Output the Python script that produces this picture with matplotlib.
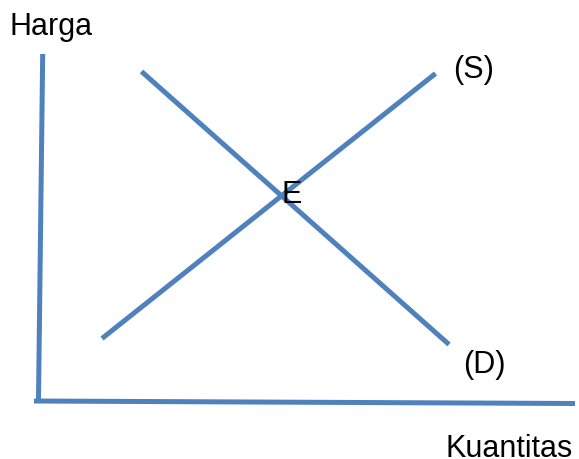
import matplotlib
matplotlib.use("Agg")
import matplotlib.pyplot as plt

# picture coordinates (pixels, y grows downwards)
axis_y_x = [42.7, 38.5]
axis_y_y = [55, 400]
axis_x_x = [34, 575]
axis_x_y = [402, 404.5]

supply_x = [102, 435.5]
supply_y = [339.5, 74.5]
demand_x = [141.5, 449]
demand_y = [72.5, 345.5]

labels = ["Harga", "Kuantitas", "(S)", "(D)", "E"]
label_x = [9, 446, 453, 463, 282]
label_y = [35, 457, 78, 373, 203]

blue = "#4F81BD"

fig = plt.figure(figsize=(5.79, 4.60), dpi=100)
ax = fig.add_axes([0, 0, 1, 1])
ax.set_xlim(0, 579)
ax.set_ylim(460, 0)
ax.axis("off")

lw = 3.6
ax.plot(axis_y_x, axis_y_y, color=blue, lw=lw, solid_capstyle="butt")
ax.plot(axis_x_x, axis_x_y, color=blue, lw=lw, solid_capstyle="butt")
ax.plot(supply_x, supply_y, color=blue, lw=lw, solid_capstyle="butt")
ax.plot(demand_x, demand_y, color=blue, lw=lw, solid_capstyle="butt")

for txt, x, y in zip(labels, label_x, label_y):
    ax.text(x, y, txt, fontsize=22, family="Liberation Sans",
            ha="left", va="baseline", color="black")

fig.savefig("out.png", dpi=100)
